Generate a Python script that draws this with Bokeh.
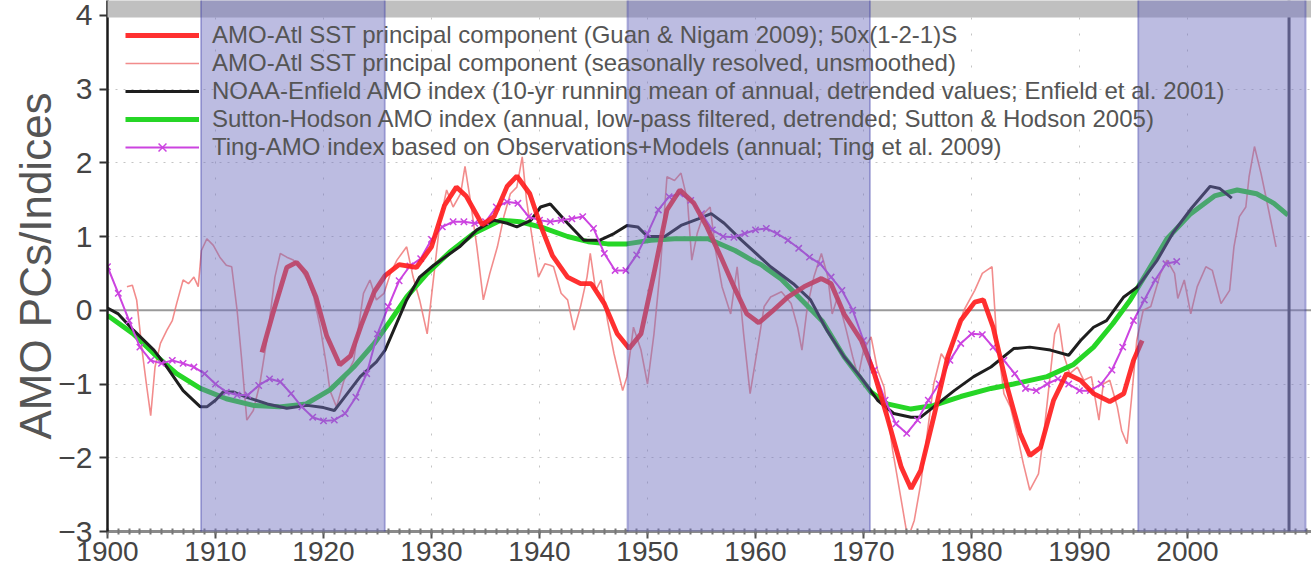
from bokeh.plotting import figure
from bokeh.models import (Range1d, SingleIntervalTicker, FixedTicker, BoxAnnotation, Span,
                          Legend, LegendItem)
from bokeh.embed import file_html
from bokeh.resources import INLINE

# ---------------- data ----------------
x_ticks = [1900, 1910, 1920, 1930, 1940, 1950, 1960, 1970, 1980, 1990, 2000]
x_minor = list(range(1900, 2012))

# AMO-Atl SST principal component, smoothed 50x(1-2-1)
pc_years = [1914.3, 1915.4, 1916.6, 1917.5, 1918.4, 1919.3, 1920.3, 1921.5, 1922.5, 1923.5,
            1924.7, 1925.7, 1927.0, 1928.6, 1930.0, 1931.2, 1932.3, 1933.2, 1934.7, 1935.8,
            1937.0, 1937.9, 1939.1, 1940.1, 1941.2, 1942.6, 1943.8, 1944.8, 1946.0, 1947.2,
            1948.3, 1949.4, 1950.6, 1951.8, 1953.0, 1954.3, 1955.5, 1956.8, 1958.0, 1959.2,
            1960.3, 1961.5, 1963.0, 1964.5, 1966.1, 1967.0, 1968.2, 1969.8, 1971.0, 1972.2,
            1973.5, 1974.4, 1975.3, 1976.5, 1977.8, 1979.0, 1980.3, 1981.1, 1982.0, 1983.3,
            1984.5, 1985.4, 1986.4, 1987.6, 1988.8, 1990.1, 1991.3, 1992.8, 1994.1, 1995.0,
            1995.8]
pc_vals = [-0.57, 0.00, 0.58, 0.65, 0.50, 0.18, -0.35, -0.74, -0.62, -0.20,
           0.25, 0.47, 0.62, 0.58, 0.86, 1.42, 1.67, 1.55, 1.16, 1.27,
           1.68, 1.82, 1.58, 1.15, 0.74, 0.45, 0.36, 0.36, 0.09, -0.32,
           -0.52, -0.32, 0.50, 1.36, 1.63, 1.45, 1.13, 0.72, 0.32, -0.05,
           -0.17, -0.02, 0.18, 0.32, 0.43, 0.36, -0.05, -0.41, -0.86, -1.45,
           -2.13, -2.42, -2.17, -1.45, -0.63, -0.14, 0.11, 0.14, -0.23, -1.04,
           -1.67, -1.97, -1.86, -1.22, -0.86, -0.95, -1.13, -1.24, -1.13, -0.68,
           -0.41]

# AMO-Atl SST principal component, seasonally resolved, unsmoothed
raw_years = [1901.8, 1902.3, 1902.7, 1903.2, 1903.6, 1904.0, 1904.4, 1904.9, 1905.5, 1906.0,
             1906.4, 1907.0, 1907.5, 1908.0, 1908.4, 1908.7, 1909.2, 1909.8, 1910.4, 1911.0,
             1911.5, 1912.0, 1912.4, 1912.9, 1913.5, 1914.1, 1914.8, 1915.5, 1916.0, 1916.6,
             1917.2, 1917.8, 1918.5, 1919.1, 1919.7, 1920.3, 1920.6, 1921.2, 1921.9, 1922.8,
             1923.7, 1924.3, 1924.9, 1925.6, 1926.2, 1926.8, 1927.7, 1928.3, 1928.9, 1929.6,
             1930.2, 1930.8, 1931.4, 1932.0, 1932.7, 1933.1, 1933.6, 1934.2, 1934.8, 1935.4,
             1936.1, 1936.7, 1937.3, 1937.9, 1938.4, 1938.8, 1939.5, 1939.9, 1940.5, 1941.0,
             1941.3, 1942.0, 1942.6, 1943.2, 1943.8, 1944.4, 1944.7, 1945.2, 1945.7, 1946.3,
             1946.9, 1947.7, 1948.1, 1948.7, 1949.4, 1950.0, 1950.6, 1951.2, 1951.8, 1952.5,
             1953.1, 1953.7, 1954.1, 1954.6, 1955.2, 1955.8, 1956.3, 1956.9, 1957.7, 1958.3,
             1958.9, 1959.5, 1960.2, 1960.8, 1961.4, 1962.4, 1963.3, 1963.9, 1964.3, 1964.8,
             1965.4, 1966.1, 1966.7, 1967.1, 1967.6, 1968.4, 1969.0, 1969.5, 1970.0, 1970.7,
             1971.3, 1971.9, 1972.7, 1973.5, 1974.1, 1974.7, 1975.3, 1975.9, 1976.5, 1977.2,
             1977.8, 1978.4, 1979.3, 1980.3, 1981.0, 1981.4, 1981.9, 1982.3, 1983.0, 1983.6,
             1984.2, 1984.8, 1985.4, 1986.2, 1986.7, 1987.3, 1987.7, 1988.1, 1988.5, 1989.1,
             1989.8, 1990.4, 1991.1, 1991.8, 1992.2, 1992.8, 1993.5, 1993.9, 1994.4, 1994.8,
             1995.3, 1995.9, 1996.6, 1997.5, 1998.1, 1998.8, 1999.1, 1999.7, 2000.3, 2000.9,
             2001.7, 2002.3, 2003.1, 2003.9, 2004.3, 2004.8, 2005.4, 2005.7, 2006.2, 2006.8,
             2007.2, 2007.7, 2008.2]
raw_vals = [0.32, 0.34, 0.14, -0.54, -1.00, -1.43, -0.77, -0.45, -0.27, -0.14,
            0.09, 0.41, 0.36, 0.45, 0.32, 0.81, 0.97, 0.88, 0.72, 0.61,
            0.59, 0.00, -0.63, -1.49, -1.36, -1.00, -0.36, 0.45, 0.77, 0.72,
            0.68, 0.59, 0.41, 0.18, -0.23, -0.77, -1.09, -1.31, -0.95, -0.68,
            0.23, 0.41, 0.14, 0.23, 0.50, 0.68, 0.86, 0.45, 0.14, -0.32,
            0.45, 1.22, 1.63, 1.40, 1.58, 1.95, 1.49, 0.86, 0.14, 0.50,
            0.86, 1.27, 1.58, 1.67, 2.08, 1.49, 0.81, 0.45, 0.63, 0.61,
            0.59, 0.23, 0.14, -0.27, 0.05, 0.45, 0.77, 0.27, 0.41, -0.14,
            -0.59, -1.09, -0.90, -0.23, -0.54, -1.00, -0.32, 0.59, 1.81, 1.76,
            1.86, 1.49, 0.68, 1.04, 1.31, 1.40, 0.81, 0.32, -0.05, 0.59,
            -0.32, -1.13, -0.50, 0.05, 0.18, 0.25, 0.09, -0.23, -0.54, 0.05,
            0.45, 0.77, 0.45, -0.05, 0.18, -0.27, -0.63, -0.90, -0.54, -0.36,
            -0.81, -1.04, -1.90, -2.58, -3.10, -2.85, -2.35, -1.67, -1.00, -0.59,
            -0.72, -0.41, 0.00, 0.27, 0.50, 0.54, 0.59, -0.32, -1.13, -1.31,
            -1.67, -2.08, -2.44, -2.22, -1.67, -0.86, -0.32, -0.18, -0.59, -0.86,
            -0.77, -0.95, -0.90, -1.49, -1.00, -0.95, -1.31, -1.63, -1.81, -1.22,
            -0.41, 0.00, 0.05, 0.50, 0.68, 0.50, 0.16, 0.41, -0.05, 0.32,
            0.59, 0.54, 0.09, 0.27, 0.86, 1.27, 1.40, 1.81, 2.22, 1.86,
            1.58, 1.22, 0.86]

# NOAA-Enfield AMO index (10-yr running mean)
noaa_years = [1900.0, 1901.0, 1902.4, 1904.3, 1905.5, 1907.0, 1908.6, 1909.2, 1910.0, 1910.7,
              1911.7, 1912.9, 1914.8, 1916.6, 1918.5, 1920.0, 1921.0, 1922.2, 1923.4, 1924.9,
              1925.7, 1926.5, 1927.7, 1928.9, 1930.2, 1932.6, 1934.2, 1935.8, 1937.0, 1937.9,
              1939.2, 1940.1, 1941.0, 1942.6, 1944.1, 1945.6, 1946.9, 1948.1, 1949.1, 1950.0,
              1951.6, 1953.1, 1954.7, 1955.9, 1957.1, 1958.7, 1960.2, 1961.4, 1963.5, 1965.1,
              1966.6, 1968.2, 1969.7, 1971.3, 1972.8, 1974.4, 1975.3, 1976.5, 1978.4, 1980.2,
              1981.8, 1983.9, 1985.4, 1987.3, 1989.0, 1990.1, 1991.3, 1992.5, 1994.1, 1995.4,
              1997.2, 1998.7, 2000.4, 2002.1, 2003.0, 2004.1]
noaa_vals = [0.03, -0.05, -0.27, -0.54, -0.77, -1.09, -1.31, -1.31, -1.22, -1.11,
             -1.11, -1.18, -1.27, -1.33, -1.29, -1.32, -1.36, -1.13, -0.90, -0.70,
             -0.54, -0.27, 0.14, 0.45, 0.61, 0.86, 1.09, 1.22, 1.18, 1.13,
             1.22, 1.40, 1.44, 1.18, 0.95, 0.95, 1.04, 1.15, 1.13, 1.00,
             1.00, 1.15, 1.24, 1.31, 1.18, 0.95, 0.75, 0.59, 0.36, 0.14,
             -0.27, -0.63, -0.90, -1.22, -1.40, -1.45, -1.45, -1.31, -1.09, -0.90,
             -0.77, -0.52, -0.50, -0.54, -0.61, -0.41, -0.23, -0.14, 0.18, 0.32,
             0.68, 1.06, 1.39, 1.68, 1.65, 1.52]

# Sutton-Hodson AMO index
sh_years = [1900.0, 1902.4, 1904.3, 1906.4, 1908.6, 1911.0, 1913.5, 1915.9, 1918.4, 1920.6,
            1922.8, 1924.7, 1926.2, 1927.7, 1929.6, 1931.7, 1933.9, 1936.4, 1938.2, 1940.3,
            1942.6, 1944.5, 1946.3, 1948.1, 1950.3, 1952.5, 1955.6, 1958.1, 1959.9, 1960.5,
            1962.4, 1964.0, 1966.2, 1968.2, 1970.7, 1972.2, 1974.4, 1976.5, 1979.0, 1981.8,
            1983.9, 1987.0, 1989.4, 1991.3, 1993.1, 1994.7, 1996.2, 1998.1, 2000.3, 2002.5,
            2004.6, 2006.4, 2008.0, 2009.3]
sh_vals = [-0.07, -0.32, -0.59, -0.86, -1.06, -1.20, -1.29, -1.31, -1.27, -1.08,
           -0.77, -0.45, -0.14, 0.18, 0.50, 0.79, 1.04, 1.22, 1.20, 1.12,
           1.00, 0.93, 0.90, 0.90, 0.95, 0.97, 0.97, 0.81, 0.66, 0.62,
           0.42, 0.18, -0.15, -0.63, -1.11, -1.27, -1.34, -1.29, -1.17, -1.06,
           -1.00, -0.90, -0.74, -0.50, -0.18, 0.14, 0.50, 0.97, 1.31, 1.55,
           1.63, 1.58, 1.45, 1.29]

# Ting AMO index (annual)
ting_years = list(range(1900, 2000))
ting_vals = [0.59, 0.23, -0.14, -0.50, -0.68, -0.72, -0.68, -0.72, -0.77, -0.86,
             -1.00, -1.11, -1.15, -1.15, -1.02, -0.93, -0.97, -1.13, -1.31, -1.45,
             -1.50, -1.49, -1.40, -1.18, -0.86, -0.32, 0.05, 0.40, 0.60, 0.70,
             0.96, 1.13, 1.20, 1.20, 1.18, 1.20, 1.40, 1.47, 1.45, 1.27,
             1.22, 1.20, 1.22, 1.24, 1.27, 1.11, 0.77, 0.54, 0.54, 0.75,
             1.04, 1.36, 1.54, 1.58, 1.49, 1.31, 1.09, 1.00, 0.99, 1.04,
             1.09, 1.11, 1.04, 0.95, 0.84, 0.72, 0.63, 0.45, 0.27, 0.00,
             -0.41, -0.81, -1.22, -1.54, -1.67, -1.49, -1.22, -1.00, -0.68, -0.45,
             -0.32, -0.33, -0.50, -0.68, -0.86, -1.06, -1.09, -1.00, -0.93, -1.00,
             -1.09, -1.09, -1.00, -0.81, -0.50, -0.14, 0.14, 0.41, 0.63, 0.66]

# shaded periods
shade_start = [1908.66, 1948.15, 1995.43]
shade_end = [1925.68, 1970.6, 2010.93]

labels = [
    "AMO-Atl SST principal component (Guan & Nigam 2009); 50x(1-2-1)S",
    "AMO-Atl SST principal component (seasonally resolved, unsmoothed)",
    "NOAA-Enfield AMO index (10-yr running mean of annual, detrended values; Enfield et al. 2001)",
    "Sutton-Hodson AMO index (annual, low-pass filtered, detrended; Sutton & Hodson 2005)",
    "Ting-AMO index based on Observations+Models (annual; Ting et al. 2009)",
]

# ---------------- figure ----------------
p = figure(width=1311, height=576, output_backend="svg", toolbar_location=None,
           x_range=Range1d(1900, 2011.48), y_range=Range1d(-3, 4.2),
           min_border_left=107, min_border_right=0, min_border_top=0, min_border_bottom=45,
           background_fill_color="white", border_fill_color="white")
p.outline_line_color = None

xa = p.xaxis[0]
xa.ticker = FixedTicker(ticks=x_ticks, minor_ticks=x_minor)
xa.axis_line_color = "#8a8a8a"
xa.axis_line_width = 3
xa.major_tick_in = 0
xa.major_tick_out = 7
xa.major_tick_line_color = "#555555"
xa.major_tick_line_width = 2
xa.minor_tick_in = 3
xa.minor_tick_out = 3
xa.minor_tick_line_color = "#777777"
xa.minor_tick_line_width = 2
xa.major_label_text_font = "Liberation Sans"
xa.major_label_text_font_size = "28px"
xa.major_label_text_color = "#444444"
xa.major_label_standoff = 3
xa.axis_label_standoff = 0

ya = p.yaxis[0]
ya.ticker = SingleIntervalTicker(interval=1, num_minor_ticks=0)
ya.axis_line_color = "#1a1a1a"
ya.axis_line_width = 2.5
ya.major_tick_in = 0
ya.major_tick_out = 8
ya.major_tick_line_color = "#333333"
ya.major_tick_line_width = 2
ya.minor_tick_line_color = None
ya.major_label_text_font = "Liberation Sans"
ya.major_label_text_font_size = "30px"
ya.major_label_text_color = "#444444"
ya.major_label_standoff = 7
ya.axis_label = "AMO PCs/Indices"
ya.axis_label_text_font = "Liberation Sans"
ya.axis_label_text_font_size = "44px"
ya.axis_label_text_font_style = "normal"
ya.axis_label_text_color = "#555555"
ya.axis_label_standoff = -5

p.xgrid.grid_line_color = "#c4c4c4"
p.xgrid.grid_line_dash = "2 14"
p.ygrid.grid_line_color = "#c4c4c4"
p.ygrid.grid_line_dash = "2 6"

p.add_layout(Span(location=0, dimension="width", line_color="#9a9a9a",
                  line_width=2, level="underlay"))
p.add_layout(Span(location=2009.4, dimension="height", line_color="#4a4a55",
                  line_width=3))

r_raw = p.line(raw_years, raw_vals, line_color="#f07878", line_width=1.6, line_alpha=0.85)
r_sh = p.line(sh_years, sh_vals, line_color="#26d626", line_width=5)
r_noaa = p.line(noaa_years, noaa_vals, line_color="#1e1e1e", line_width=3)
r_ting = p.line(ting_years, ting_vals, line_color="#cc44e0", line_width=2)
r_tingx = p.scatter(ting_years, ting_vals, marker="x", size=9, line_color="#cc44e0",
                    line_width=1.5)
r_pc = p.line(pc_years, pc_vals, line_color="#ff1e1e", line_width=4.8, line_alpha=0.92)

legend = Legend(items=[
    LegendItem(label=labels[0], renderers=[r_pc]),
    LegendItem(label=labels[1], renderers=[r_raw]),
    LegendItem(label=labels[2], renderers=[r_noaa]),
    LegendItem(label=labels[3], renderers=[r_sh]),
    LegendItem(label=labels[4], renderers=[r_ting, r_tingx]),
], location=(18, 370), orientation="vertical", glyph_width=74, glyph_height=28,
   label_height=28, spacing=-2, padding=0, margin=0, label_standoff=13,
   label_text_font="Liberation Sans", label_text_font_size="24px",
   label_text_color="#555555", background_fill_alpha=0, border_line_color=None)
p.add_layout(legend)

# grey banner at top and shaded periods
p.add_layout(BoxAnnotation(left=1894.07, right=2012.5, bottom=3.969, top=4.4,
                           fill_color="#c0c0c0", fill_alpha=1.0, line_color=None,
                           level="overlay"))
for s0, s1 in zip(shade_start, shade_end):
    p.add_layout(BoxAnnotation(left=s0, right=s1, bottom=-3.03, top=4.4,
                               fill_color="#7070c0", fill_alpha=0.47,
                               line_color="#22229a", line_width=2, level="overlay"))

open("out.html", "w").write(file_html(p, INLINE))
